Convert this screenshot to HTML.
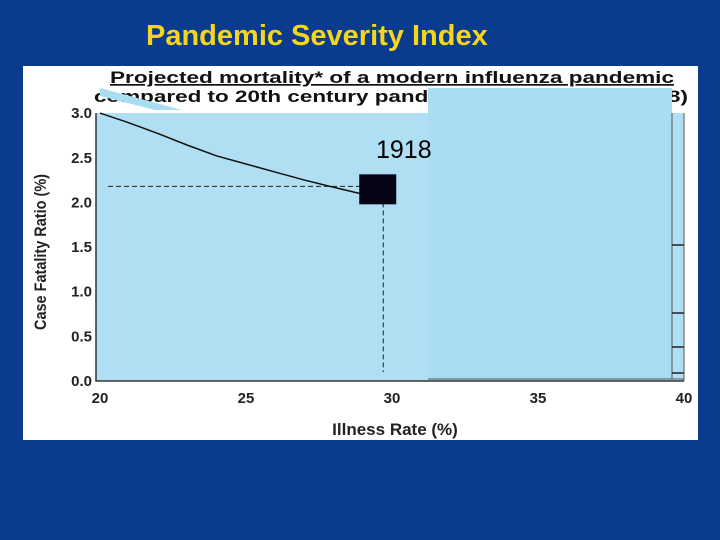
<!DOCTYPE html>
<html><head><meta charset="utf-8"><style>
body{margin:0;width:720px;height:540px;background:#0b3b8c;overflow:hidden;font-family:"Liberation Sans",sans-serif}
</style></head><body>
<div style="position:absolute;left:0;top:0;width:720px;height:540px">
<div style="position:absolute;left:146px;top:20px;color:#f5d61c;font-weight:bold;font-size:29px">Pandemic Severity Index</div>
<svg width="720" height="540" style="position:absolute;left:0;top:0">
<rect x="23" y="66" width="675" height="374" fill="#fff"/>
<text x="110" y="83" font-size="17" font-weight="bold" text-decoration="underline" textLength="564" lengthAdjust="spacingAndGlyphs" fill="#111">Projected mortality* of a modern influenza pandemic</text>
<text x="94" y="102" font-size="17" font-weight="bold" textLength="594" lengthAdjust="spacingAndGlyphs" fill="#111">compared to 20th century pandemics (1957, 1968, 1918)</text>
<g id="plot"></g>
<text transform="translate(46,252) rotate(-90)" text-anchor="middle" font-size="17" font-weight="bold" fill="#222" textLength="156" lengthAdjust="spacingAndGlyphs">Case Fatality Ratio (%)</text>
<text x="395" y="435" text-anchor="middle" font-size="17" font-weight="bold" fill="#222">Illness Rate (%)</text>
<text x="376" y="158" font-size="25" fill="#000">1918</text>
</svg>
</div>
<script>
const xTicks=[20,25,30,35,40];
const yTicks=[0.0,0.5,1.0,1.5,2.0,2.5,3.0];
const curveX=[20,21,22,23,24,25,26,27,28,28.9];
const curveY=[3.0,2.89,2.77,2.64,2.52,2.43,2.34,2.25,2.17,2.10];
const point1918=[29.7,2.18];
const X=v=>100+(v-20)*29.2, Y=v=>381-v*89.3;
const NS="http://www.w3.org/2000/svg", g=document.getElementById('plot');
function mk(t,a){const e=document.createElementNS(NS,t);for(const k in a)e.setAttribute(k,a[k]);g.appendChild(e);return e;}
let e;
e=mk('rect',{x:96,y:113,width:588,height:268,fill:'#b0def2'});


e=mk('rect',{x:428,y:88,width:244,height:291,fill:'#a9def2'});


e=mk('path',{d:'M672,113 V379 M428,379 H684 M684,113 V381',fill:'none',stroke:'#555','stroke-width':1});


e=mk('polygon',{points:'100,88 182,110 155,110 100,96',fill:'#a9def2'});


e=mk('path',{d:'M96,113 V381 H684',fill:'none',stroke:'#333','stroke-width':1.5});


[245,313,347,373].forEach(y=>{e=mk('line',{x1:672,x2:684,y1:y,y2:y,stroke:'#222','stroke-width':1.5});

});
xTicks.forEach(v=>{e=mk('text',{x:X(v),y:403,'text-anchor':'middle','font-size':15,'font-weight':'bold',fill:'#222'});e.textContent=v;

});
yTicks.forEach(v=>{e=mk('text',{x:92,y:Y(v)+5,'text-anchor':'end','font-size':15,'font-weight':'bold',fill:'#222'});e.textContent=v.toFixed(1);

});
e=mk('polyline',{points:curveX.map((x,i)=>X(x)+','+Y(curveY[i])).join(' '),fill:'none',stroke:'#111','stroke-width':1.5});


const px=X(point1918[0]),py=Y(point1918[1]);
e=mk('line',{x1:108,x2:px,y1:py,y2:py,stroke:'#222','stroke-dasharray':'5,3'});


e=mk('line',{x1:px,x2:px,y1:py,y2:372,stroke:'#222','stroke-dasharray':'5,3'});


e=mk('rect',{x:px-24,y:py-12,width:37,height:30,fill:'#050515'});


</script>
</body></html>
